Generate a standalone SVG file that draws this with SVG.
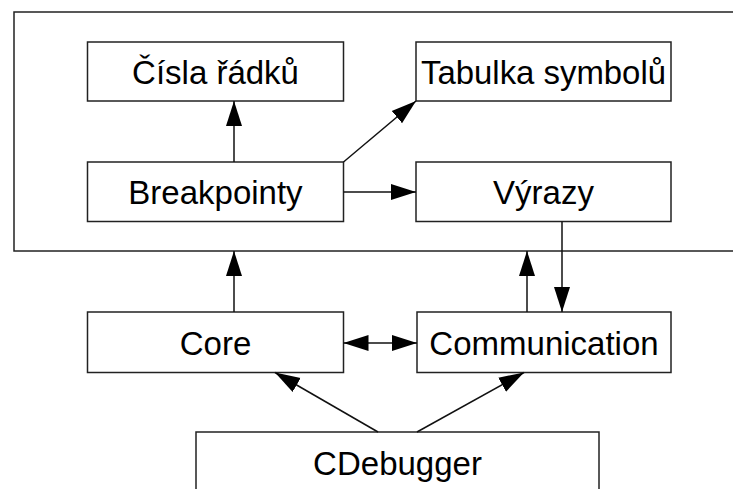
<svg xmlns="http://www.w3.org/2000/svg" width="733" height="489" viewBox="0 0 733 489">
<style>
.box{fill:#fff;stroke:#222;stroke-width:1.5}
.lbl{font-family:"Liberation Sans",Arial,sans-serif;font-size:33px;fill:#000;text-anchor:middle}
.con{stroke:#111;stroke-width:1.5;fill:none}
</style>
<defs>
<marker id="ah" markerUnits="userSpaceOnUse" markerWidth="26" markerHeight="18" refX="25" refY="8" orient="auto-start-reverse" viewBox="0 0 26 16">
<path d="M0,0 L25,8 L0,16 z" fill="#000"/>
</marker>
</defs>
<rect width="733" height="489" fill="#fff"/>
<g id="container"><rect class="box" x="14" y="12" width="740" height="239"/></g>
<g id="cisla"><rect class="box" x="87.5" y="42" width="256" height="59"/><text class="lbl" x="215.5" y="83.5">Čísla řádků</text></g>
<g id="tabulka"><rect class="box" x="416" y="42" width="255" height="59"/><text class="lbl" x="543.5" y="83.5" textLength="245" lengthAdjust="spacingAndGlyphs">Tabulka symbolů</text></g>
<g id="breakpointy"><rect class="box" x="87.5" y="162" width="256" height="59.5"/><text class="lbl" x="215.5" y="203.5">Breakpointy</text></g>
<g id="vyrazy"><rect class="box" x="416" y="162" width="255" height="59.5"/><text class="lbl" x="543.5" y="203.5">Výrazy</text></g>
<g id="core"><rect class="box" x="87.5" y="312" width="256" height="60.5"/><text class="lbl" x="215.5" y="355">Core</text></g>
<g id="communication"><rect class="box" x="417" y="312" width="254" height="60.5"/><text class="lbl" x="544" y="355">Communication</text></g>
<g id="cdebugger"><rect class="box" x="196" y="432" width="403" height="70"/><text class="lbl" x="397.5" y="475">CDebugger</text></g>
<g id="connectors">
<line class="con" x1="234" y1="162" x2="234" y2="101" marker-end="url(#ah)"/>
<line class="con" x1="343.5" y1="162" x2="416" y2="101" marker-end="url(#ah)"/>
<line class="con" x1="343.5" y1="192" x2="416" y2="192" marker-end="url(#ah)"/>
<line class="con" x1="234" y1="312" x2="234" y2="251" marker-end="url(#ah)"/>
<line class="con" x1="527" y1="312" x2="527" y2="251" marker-end="url(#ah)"/>
<line class="con" x1="562" y1="221.5" x2="562" y2="312" marker-end="url(#ah)"/>
<line class="con" x1="343.5" y1="343" x2="417" y2="343" marker-start="url(#ah)" marker-end="url(#ah)"/>
<line class="con" x1="378" y1="432" x2="275" y2="372.5" marker-end="url(#ah)"/>
<line class="con" x1="417" y1="432" x2="524" y2="372.5" marker-end="url(#ah)"/>
</g>
</svg>
